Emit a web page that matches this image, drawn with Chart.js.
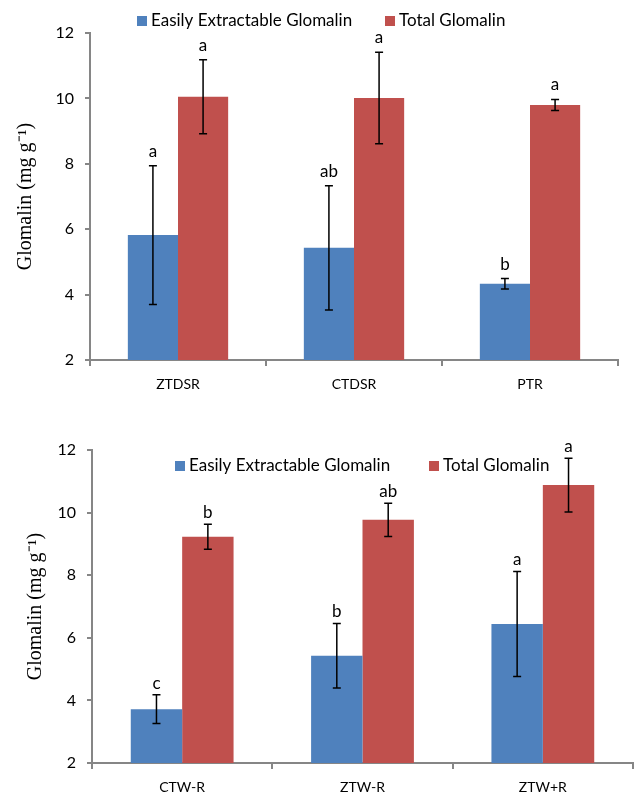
<!DOCTYPE html>
<html>
<head>
<meta charset="utf-8">
<script src="https://cdn.jsdelivr.net/npm/chart.js@4.4.0/dist/chart.umd.min.js"></script>
<style>
  html, body { margin: 0; padding: 0; background: #fff; }
  #wrap { position: relative; width: 636px; height: 794px; overflow: hidden; }
  canvas { position: absolute; left: 0; }
  #chartTop { top: 0; }
  #chartBottom { top: 400px; }
</style>
</head>
<body>
<div id="wrap">
  <canvas id="chartTop" width="636" height="400"></canvas>
  <canvas id="chartBottom" width="636" height="394"></canvas>
</div>
<script>
// top panel
const topCategories = ['ZTDSR', 'CTDSR', 'PTR'];
const topEasily = [5.82, 5.43, 4.33];
const topEasilyErr = [2.12, 1.90, 0.16];
const topEasilyLetters = ['a', 'ab', 'b'];
const topTotal = [10.05, 10.01, 9.80];
const topTotalErr = [1.13, 1.40, 0.17];
const topTotalLetters = ['a', 'a', 'a'];

// bottom panel
const bottomCategories = ['CTW-R', 'ZTW-R', 'ZTW+R'];
const bottomEasily = [3.72, 5.43, 6.44];
const bottomEasilyErr = [0.46, 1.03, 1.68];
const bottomEasilyLetters = ['c', 'b', 'a'];
const bottomTotal = [9.23, 9.77, 10.88];
const bottomTotalErr = [0.40, 0.53, 0.86];
const bottomTotalLetters = ['b', 'ab', 'a'];

const yTicks = { min: 2, max: 12, step: 2 };

const BLUE = '#4F81BD';
const RED = '#C0504D';
const AXIS = '#868686';

// error bars + significance letters
const errorBars = {
    id: 'errorBars',
    afterDatasetsDraw(chart, args, opts) {
        const ctx = chart.ctx;
        const y = chart.scales.y;
        chart.data.datasets.forEach((ds, i) => {
            chart.getDatasetMeta(i).data.forEach((bar, j) => {
                const v = ds.data[j], e = ds.errors[j];
                const yTop = y.getPixelForValue(v + e);
                const yBot = y.getPixelForValue(v - e);
                ctx.save();
                ctx.strokeStyle = '#000';
                ctx.lineWidth = 1.5;
                ctx.beginPath();
                ctx.moveTo(bar.x, yTop); ctx.lineTo(bar.x, yBot);
                ctx.moveTo(bar.x - 4, yTop); ctx.lineTo(bar.x + 4, yTop);
                ctx.moveTo(bar.x - 4, yBot); ctx.lineTo(bar.x + 4, yBot);
                ctx.stroke();
                ctx.fillStyle = '#000';
                ctx.font = '17px Lato';
                ctx.textAlign = 'center';
                ctx.textBaseline = 'alphabetic';
                ctx.fillText(ds.letters[j], bar.x, yTop - opts.gap);
                ctx.restore();
            });
        });
    }
};

const boxLegend = {
    id: 'boxLegend',
    afterDraw(chart, args, opts) {
        const ctx = chart.ctx;
        ctx.save();
        ctx.font = '17px Lato';
        ctx.textBaseline = 'middle';
        ctx.textAlign = 'left';
        chart.data.datasets.forEach((ds, i) => {
            const x = opts.x[i];
            ctx.fillStyle = ds.backgroundColor;
            ctx.fillRect(x, opts.y - 5, 10, 10);
            ctx.fillStyle = '#000';
            ctx.fillText(ds.label, x + 14, opts.y);
        });
        ctx.restore();
    }
};

function makeChart(id, cats, easily, easilyErr, easilyLet, total, totalErr, totalLet, s) {
    const ctx = document.getElementById(id).getContext('2d');
    return new Chart(ctx, {
        type: 'bar',
        data: {
            labels: cats,
            datasets: [
                { label: 'Easily Extractable Glomalin', data: easily, errors: easilyErr, letters: easilyLet,
                  backgroundColor: BLUE, barPercentage: 1, categoryPercentage: 0.57 },
                { label: 'Total Glomalin', data: total, errors: totalErr, letters: totalLet,
                  backgroundColor: RED, barPercentage: 1, categoryPercentage: 0.57 }
            ]
        },
        options: {
            responsive: false,
            animation: false,
            layout: { padding: { top: s.top, right: s.right, left: 0, bottom: 0 } },
            plugins: {
                legend: { display: false },
                tooltip: { enabled: false },
                errorBars: { gap: s.gap },
                boxLegend: { x: s.legendX, y: s.legendY }
            },
            scales: {
                x: {
                    ticks: { color: '#000', font: { family: 'Lato', size: 14 }, padding: 10 },
                    grid: { drawOnChartArea: false, tickLength: 6, color: AXIS, lineWidth: 2, offset: true },
                    border: { color: AXIS, width: 2 },
                    afterFit(scale) { scale.height = s.xHeight; }
                },
                y: {
                    min: yTicks.min,
                    max: yTicks.max,
                    ticks: { stepSize: yTicks.step, color: '#000', font: { family: 'Lato', size: 16 }, padding: 11 },
                    grid: { drawOnChartArea: false, tickLength: 5, color: AXIS, lineWidth: 2 },
                    border: { color: AXIS, width: 2 },
                    title: {
                        display: true,
                        text: 'Glomalin (mg g\u207B\u00B9)',
                        color: '#000',
                        font: { family: 'Liberation Serif', size: 20 },
                        padding: { top: s.titlePad, bottom: 0 }
                    },
                    afterFit(scale) { scale.width = s.yWidth; }
                }
            }
        },
        plugins: [errorBars, boxLegend]
    });
}

makeChart('chartTop', topCategories, topEasily, topEasilyErr, topEasilyLetters,
    topTotal, topTotalErr, topTotalLetters,
    { top: 33, right: 18, yWidth: 90, xHeight: 40, titlePad: 14, gap: 9, legendX: [137, 385], legendY: 21 });

makeChart('chartBottom', bottomCategories, bottomEasily, bottomEasilyErr, bottomEasilyLetters,
    bottomTotal, bottomTotalErr, bottomTotalLetters,
    { top: 50, right: 3, yWidth: 92, xHeight: 31, titlePad: 24, gap: 6, legendX: [175, 429], legendY: 66 });
</script>
</body>
</html>
